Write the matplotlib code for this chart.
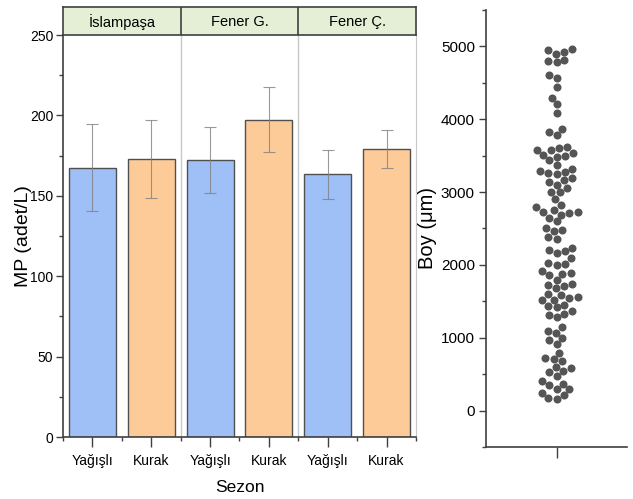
import numpy as np
import matplotlib
matplotlib.use('Agg')
import matplotlib.pyplot as plt
from matplotlib.ticker import MultipleLocator, FixedLocator
import seaborn as sns

plt.rcParams['font.family'] = ['Liberation Sans', 'DejaVu Sans']

# data
sites = ['İslampaşa', 'Fener G.', 'Fener Ç.']
seasons = ['Yağışlı', 'Kurak']
mp_mean = [167.6, 172.8, 172.4, 197.2, 163.4, 179.1]
mp_err = [27.2, 24.3, 20.5, 20.2, 15.3, 11.9]

boy = [4962, 4952, 4929, 4893, 4819, 4801, 4783,
       4609, 4564, 4440, 4298, 4207, 4092,
       3868, 3831, 3786,
       3617, 3604, 3580, 3571, 3534, 3512, 3498, 3488, 3434,
       3374, 3315, 3283, 3269, 3260, 3247,
       3192, 3159, 3137, 3100,
       3050, 3004, 2995, 2900,
       2820, 2790, 2757, 2730, 2720, 2712, 2690, 2643, 2597,
       2500, 2480, 2465, 2380, 2360,
       2232, 2208, 2185, 2163, 2095, 2026, 2012, 2003,
       1911, 1889, 1875, 1856,
       1797, 1738, 1728, 1705, 1683,
       1605, 1591, 1554, 1546, 1523, 1513,
       1454, 1431, 1418, 1362, 1331, 1317, 1280,
       1148, 1097, 1070, 997, 974, 915,
       792, 723, 713, 676,
       594, 586, 539, 471, 525,
       400, 366, 345, 300, 290, 243, 219, 174, 160]

blue = '#9fbff7'
orange = '#fdcb98'
edge = '#505050'

fig = plt.figure(figsize=(6.33, 4.99), dpi=100)

# ---- bar panel
ax = fig.add_axes([0.0995, 0.1242, 0.5577, 0.8056])
x = np.arange(len(mp_mean)) + 0.5
colors = [blue, orange] * len(sites)
ax.bar(x, mp_mean, width=0.8, color=colors, edgecolor=edge, linewidth=1.0, zorder=2)
ax.errorbar(x, mp_mean, yerr=mp_err, fmt='none', ecolor='#808080', elinewidth=0.8,
            capsize=4, capthick=0.8, alpha=0.8, zorder=3)
for d in [2, 4]:
    ax.axvline(d, color='#c8c8c8', lw=1.0, zorder=1)
ax.set_xlim(0, 6)
ax.set_ylim(0, 250)
ax.set_xticks(x)
ax.set_xticklabels(seasons * len(sites))
ax.xaxis.set_minor_locator(FixedLocator(np.arange(0, 7)))
ax.yaxis.set_major_locator(MultipleLocator(50))
ax.yaxis.set_minor_locator(MultipleLocator(25))
ax.tick_params(axis='both', which='major', direction='out', length=5, width=1,
               color='#404040', labelsize=10, pad=2)
ax.tick_params(axis='x', which='major', length=7, pad=5)
ax.tick_params(axis='both', which='minor', direction='out', length=3, width=1, color='#404040')
for s in ['left', 'bottom']:
    ax.spines[s].set_color('#404040')
    ax.spines[s].set_linewidth(1.2)
ax.spines['right'].set_color('#c8c8c8')
ax.spines['top'].set_visible(False)
ax.set_ylabel('MP (adet/L)', fontsize=14, labelpad=0)
ax.yaxis.set_label_coords(-0.088, 0.5)
ax.set_xlabel('Sezon', fontsize=12.5, labelpad=9)

# header strip
hx = fig.add_axes([0.0995, 0.9299, 0.5577, 0.0561])
hx.set_facecolor('#e4efd6')
hx.set_xlim(0, 6)
hx.set_ylim(0, 1)
for d in [2, 4]:
    hx.axvline(d, color='#404040', lw=1.2)
for i, name in enumerate(sites):
    hx.text(2 * i + 1, 0.48, name, ha='center', va='center', fontsize=10.5)
hx.set_xticks([])
hx.set_yticks([])
for s in hx.spines.values():
    s.set_color('#404040')
    s.set_linewidth(1.2)

# ---- swarm panel
ax2 = fig.add_axes([0.7678, 0.1042, 0.2227, 0.8758])
sns.swarmplot(y=boy, ax=ax2, color='#555555', size=5.8, linewidth=0)
ax2.set_xlim(-0.5, 0.5)
ax2.set_ylim(-500, 5500)
ax2.set_xticks([0])
ax2.set_xticklabels([''])
ax2.yaxis.set_major_locator(MultipleLocator(1000))
ax2.yaxis.set_minor_locator(MultipleLocator(500))
ax2.tick_params(axis='both', which='major', direction='out', length=5, width=1,
                color='#404040', labelsize=11, pad=3)
ax2.tick_params(axis='x', which='major', length=8)
ax2.tick_params(axis='y', which='minor', direction='out', length=3, width=1, color='#404040')
for s in ['left', 'bottom']:
    ax2.spines[s].set_color('#404040')
    ax2.spines[s].set_linewidth(1.2)
ax2.spines['right'].set_visible(False)
ax2.spines['top'].set_visible(False)
ax2.set_ylabel('Boy (μm)', fontsize=14.5, labelpad=3)

fig.savefig('out.png', dpi=100)
